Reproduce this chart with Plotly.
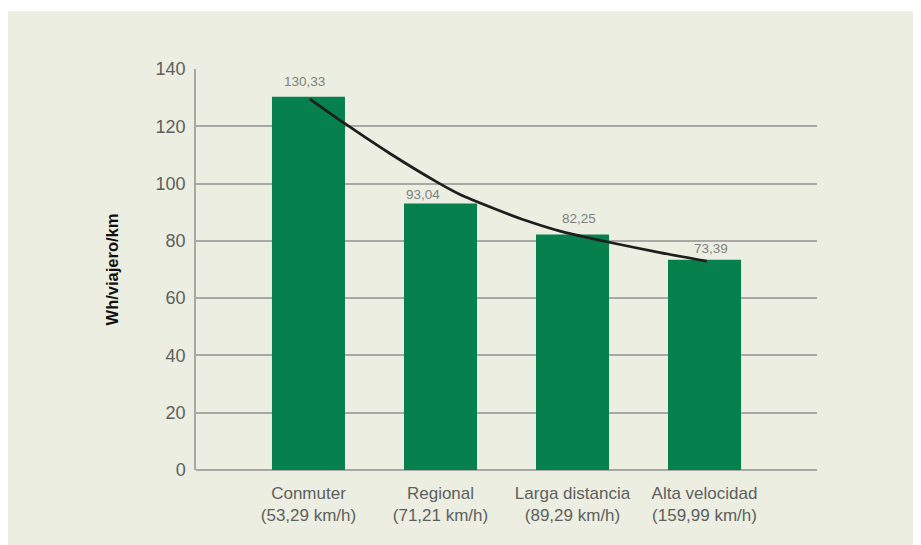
import plotly.graph_objects as go

categories = ["Conmuter<br>(53,29 km/h)", "Regional<br>(71,21 km/h)",
              "Larga distancia<br>(89,29 km/h)", "Alta velocidad<br>(159,99 km/h)"]
positions = [0, 1, 2, 3]
values = [130.33, 93.04, 82.25, 73.39]
value_labels = ["130,33", "93,04", "82,25", "73,39"]
y_ticks = [0, 20, 40, 60, 80, 100, 120, 140]

# trend curve (category position, value)
trend_x = [0.011, 0.277, 0.617, 0.971, 1.148, 1.400, 1.653, 1.905, 2.259, 2.663, 3.017]
trend_y = [129.5, 120.9, 110.5, 100.6, 96.2, 91.4, 87.0, 83.4, 79.7, 75.9, 72.9]

BAR = "#06804d"
PANEL = "#ebeee0"
GRID = "#a8a8a6"
FONT = "Liberation Sans"

# label pixel offsets (style, so labels avoid the curve as in the original)
label_dx = [-4, -17, 6, 6]
label_dy = [15, 9, 16, 11]

fig = go.Figure()
fig.add_trace(go.Bar(x=positions, y=values, marker=dict(color=BAR, line=dict(width=0)),
                     width=0.553, hoverinfo="skip"))
fig.add_trace(go.Scatter(x=trend_x, y=trend_y, mode="lines",
                         line=dict(color="#1e1e1e", width=2.7, shape="spline", smoothing=0.7),
                         hoverinfo="skip"))

for p, v, t, dx, dy in zip(positions, values, value_labels, label_dx, label_dy):
    fig.add_annotation(x=p, y=v, text=t, showarrow=False, xshift=dx, yshift=dy,
                       font=dict(family=FONT, size=13.5, color="#808080"))

fig.add_shape(type="rect", xref="paper", yref="paper",
              x0=-0.3027, x1=1.17, y0=-0.19, y1=1.1446,
              fillcolor=PANEL, line=dict(width=0), layer="below")

fig.update_layout(
    width=913, height=537,
    margin=dict(l=188, r=104, t=61, b=75),
    paper_bgcolor="white", plot_bgcolor="rgba(0,0,0,0)",
    showlegend=False,
    font=dict(family=FONT, color="#5a5a5a"),
)
fig.update_xaxes(range=[-0.852, 3.852], showgrid=False, showline=False,
                 tickvals=positions, ticktext=categories,
                 tickfont=dict(family=FONT, size=17, color="#5f5f5f"),
                 ticks="", ticklabelstandoff=11, zeroline=False)
fig.update_yaxes(range=[0, 140], tickvals=y_ticks, showgrid=True, gridcolor=GRID, gridwidth=1.5,
                 showline=True, linecolor=GRID, linewidth=1.5, zeroline=True,
                 zerolinecolor=GRID, zerolinewidth=1.5,
                 tickfont=dict(family=FONT, size=18, color="#5f5f5f"),
                 ticks="", ticklabelstandoff=5,
                 title=dict(text="<b>Wh/viajero/km</b>", standoff=33,
                            font=dict(family=FONT, size=16.5, color="#111111")))

fig.write_html("out.html")
